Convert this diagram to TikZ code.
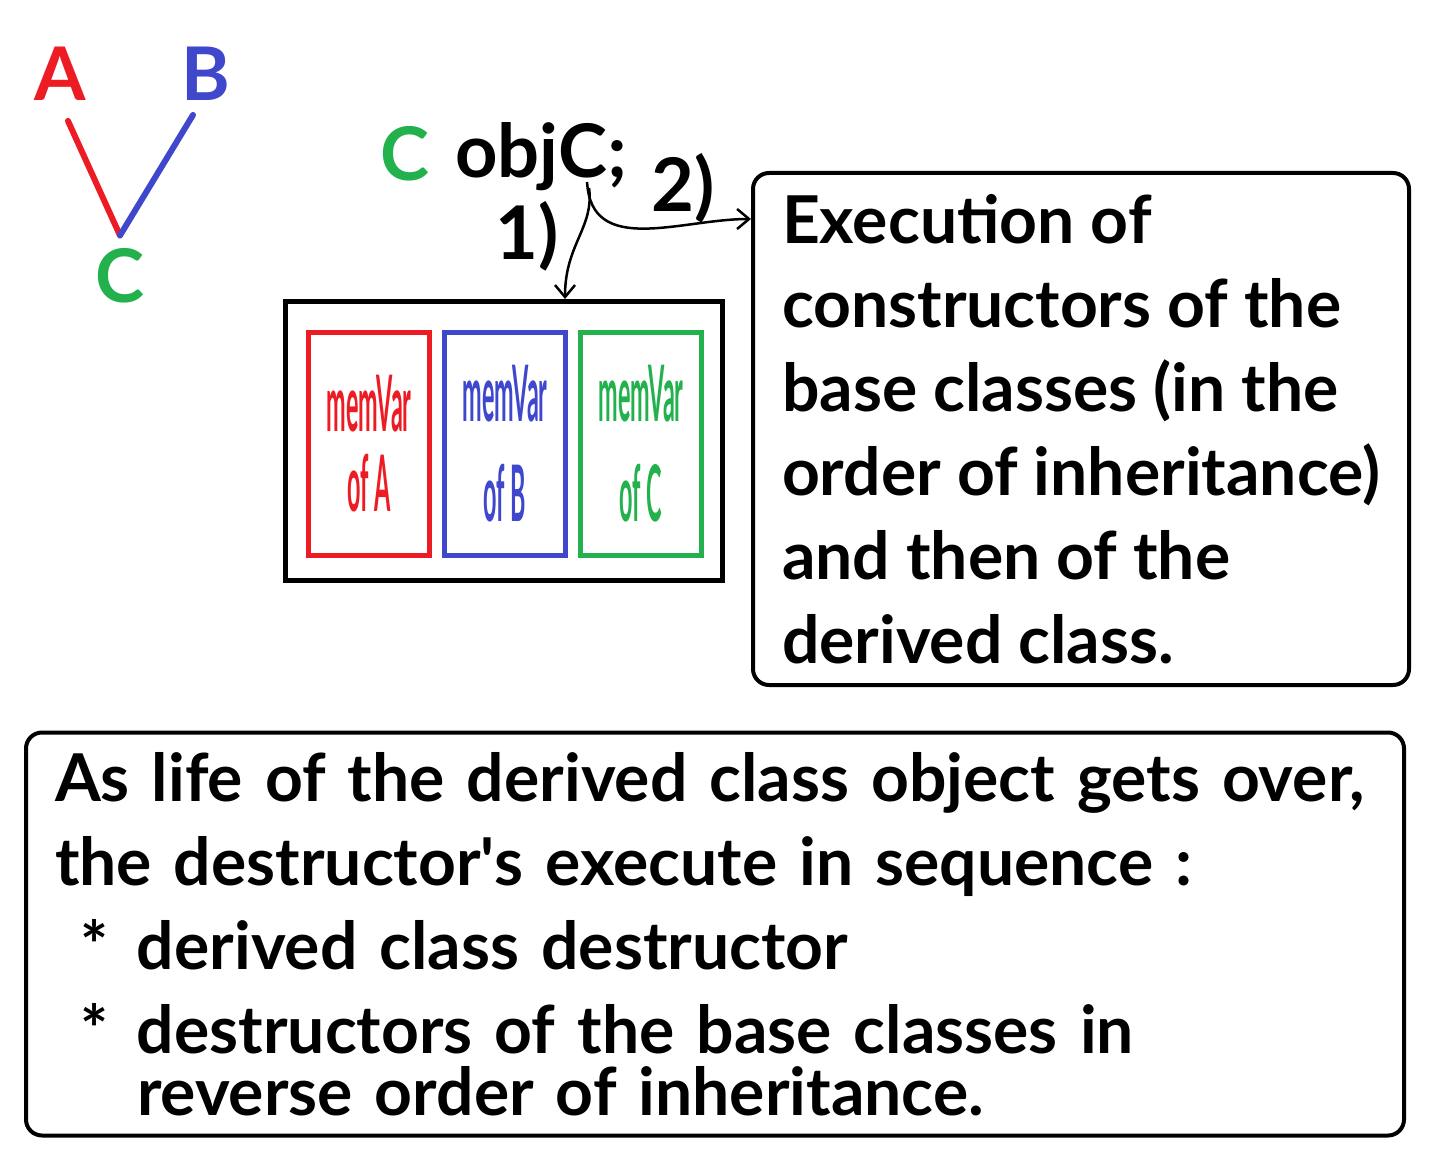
\documentclass[tikz,border=0pt]{standalone}
\usepackage{fontspec}
\setmainfont{Lato}
\newfontfamily\narrowfont[FakeStretch=0.3]{Lato}
\usetikzlibrary{arrows.meta, positioning, calc}
\definecolor{paintred}{RGB}{237,28,36}
\definecolor{paintblue}{RGB}{63,72,204}
\definecolor{paintgreen}{RGB}{34,177,76}

\begin{document}
\begin{tikzpicture}[x=1pt, y=-1pt, font=\bfseries\fontsize{66}{84}\selectfont,
    letter/.style={inner sep=0pt, font=\bfseries\fontsize{74}{74}\selectfont},
    memvar/.style={draw, line width=5pt, minimum width=121pt, minimum height=223pt, align=center,
      font=\narrowfont\bfseries\fontsize{78}{80}\selectfont},
    note/.style={draw, line width=4pt, rounded corners=16pt, align=left, inner sep=0pt},
    arr/.style={line width=2.5pt, -{Straight Barb[length=12pt, width=20pt, line width=2.5pt]}}]
    \useasboundingbox (0,0) rectangle (1448,1174);

    % inheritance: A, B -> C
    \node[letter, text=paintred]   (A) at (60,74)   {A};
    \node[letter, text=paintblue]  (B) at (206,74)  {B};
    \node[letter, text=paintgreen] (C) at (120,276) {C};
    \draw[line width=6pt, paintred, line cap=round] ([xshift=8pt, yshift=-20pt]A.south) -- ([yshift=13pt]C.north);
    \draw[line width=6pt, paintblue, line cap=round] ([xshift=-13pt, yshift=-14pt]B.south) -- ([yshift=13pt]C.north);

    % the object
    \node[letter, text=paintgreen] (cls) at (405,154) {C};
    \node[letter, anchor=base west] (objC) at (455,178) {objC;};
    \node[letter] (one) at (527,236) {1)};
    \node[letter] (two) at (683,188) {2)};

    % memory layout of objC
    \node[draw, line width=5pt, minimum width=437pt, minimum height=279pt] (layout) at (504,441) {};
    \node[memvar, draw=paintred, text=paintred] (memA) at (369,444) {memVar\\of A};
    \node[memvar, draw=paintblue, text=paintblue, right=10pt of memA] (memB) {memVar\\[20pt]of B};
    \node[memvar, draw=paintgreen, text=paintgreen, right=10pt of memB] (memC) {memVar\\[20pt]of C};

    \node[note, minimum width=656pt, minimum height=512pt] (ctor) at (1081,429)
      {Execution of\\constructors of the\\base classes (in the\\order of inheritance)\\and then of the\\derived class.};
    \node[note, minimum width=1378pt, minimum height=403pt, text width=1320pt] (dtor) at (715,934)
      {As life of the derived class object gets over,\\
       the destructor\textquotesingle s execute in sequence :\\
       \hspace*{25pt}\makebox[57pt][l]{*}derived class destructor\\
       \hspace*{25pt}\makebox[57pt][l]{*}destructors of the base classes in\\[-22pt]
       \hspace*{82pt}reverse order of inheritance.};

    \draw[arr] ([xshift=-38pt, yshift=-10pt]objC.base east) .. controls +(5,40) and +(0,-55) .. ([xshift=61pt]layout.north);
    \draw[arr] ([xshift=-40pt, yshift=-4pt]objC.base east) .. controls +(4,75) and +(-70,0) .. ([yshift=-48pt]ctor.north west);
\end{tikzpicture}
\end{document}
